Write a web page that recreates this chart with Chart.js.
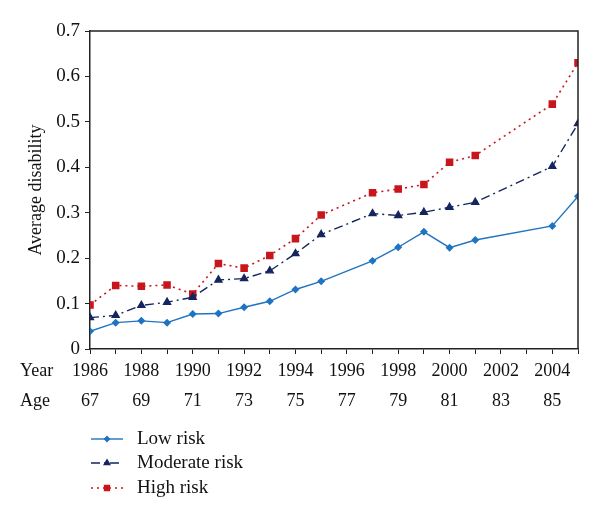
<!DOCTYPE html>
<html>
<head>
<meta charset="utf-8">
<script src="https://cdn.jsdelivr.net/npm/chart.js@4/dist/chart.umd.min.js"></script>
<style>
  html, body { margin: 0; padding: 0; background: #fff; }
  #wrap { width: 600px; height: 519px; position: relative; }
</style>
</head>
<body>
<div id="wrap"><canvas id="disabilityChart"></canvas></div>
<script>
// survey years (1996, 2002, 2003 have no wave)
var years = [1986, 1987, 1988, 1989, 1990, 1991, 1992, 1993, 1994, 1995, 1997, 1998, 1999, 2000, 2001, 2004, 2005];
var lowRisk = [0.039, 0.058, 0.062, 0.058, 0.077, 0.078, 0.092, 0.105, 0.131, 0.149, 0.194, 0.224, 0.258, 0.223, 0.240, 0.271, 0.336];
var moderateRisk = [0.069, 0.074, 0.096, 0.103, 0.114, 0.152, 0.155, 0.172, 0.210, 0.252, 0.298, 0.294, 0.301, 0.312, 0.323, 0.402, 0.496];
var highRisk = [0.097, 0.140, 0.138, 0.141, 0.121, 0.188, 0.178, 0.206, 0.243, 0.295, 0.344, 0.352, 0.362, 0.411, 0.426, 0.539, 0.630];
var seriesNames = ['Low risk', 'Moderate risk', 'High risk'];
var yTicks = [0, 0.1, 0.2, 0.3, 0.4, 0.5, 0.6, 0.7];
var ageAt1986 = 67;

var serif = '"Liberation Serif", "DejaVu Serif", serif';

function pts(vals) {
  var out = [];
  for (var i = 0; i < years.length; i++) out.push({x: years[i], y: vals[i]});
  return out;
}

var extras = {
  id: 'extras',
  afterDraw: function(chart) {
    var ctx = chart.ctx;
    var area = chart.chartArea;
    ctx.save();
    // box on top and right
    ctx.strokeStyle = '#222';
    ctx.lineWidth = 1.5;
    ctx.beginPath();
    ctx.moveTo(area.left, area.top);
    ctx.lineTo(area.right, area.top);
    ctx.lineTo(area.right, area.bottom);
    ctx.stroke();

    // row captions for the x axis
    ctx.fillStyle = '#111';
    ctx.font = '18px ' + serif;
    ctx.textBaseline = 'middle';
    ctx.textAlign = 'left';
    ctx.fillText('Year', 20, 371);
    ctx.fillText('Age', 20, 401);

    // legend
    var rowY = [439, 463, 488];
    ctx.font = '19px ' + serif;
    chart.data.datasets.forEach(function(ds, i) {
      var y = rowY[i];
      ctx.strokeStyle = ds.borderColor;
      ctx.lineWidth = ds.borderWidth;
      ctx.setLineDash(ds.borderDash || []);
      ctx.beginPath();
      ctx.moveTo(91, y);
      ctx.lineTo(123, y);
      ctx.stroke();
      ctx.setLineDash([]);
      ctx.fillStyle = ds.pointBackgroundColor;
      ctx.strokeStyle = ds.pointBorderColor;
      Chart.helpers.drawPoint(ctx, {pointStyle: ds.pointStyle, radius: ds.pointRadius * 0.8, rotation: 0, borderWidth: 1}, 107, y);
      ctx.fillStyle = '#111';
      ctx.fillText(ds.label, 137, y);
    });
    ctx.restore();
  }
};

var chart = new Chart(document.getElementById('disabilityChart').getContext('2d'), {
  type: 'line',
  data: {
    datasets: [{
      label: seriesNames[0],
      data: pts(lowRisk),
      borderColor: '#1f74c2',
      borderWidth: 1.4,
      pointStyle: 'rectRot',
      pointRadius: 3,
      pointBackgroundColor: '#1f74c2',
      pointBorderColor: '#1f74c2',
      tension: 0
    }, {
      label: seriesNames[1],
      data: pts(moderateRisk),
      borderColor: '#14255f',
      borderWidth: 1.4,
      borderDash: [9, 4, 2, 4],
      pointStyle: 'triangle',
      pointRadius: 4,
      pointBackgroundColor: '#14255f',
      pointBorderColor: '#14255f',
      tension: 0
    }, {
      label: seriesNames[2],
      data: pts(highRisk),
      borderColor: '#c8161d',
      borderWidth: 1.6,
      borderDash: [2, 4],
      pointStyle: 'rect',
      pointRadius: 4.2,
      pointBackgroundColor: '#c8161d',
      pointBorderColor: '#c8161d',
      tension: 0
    }]
  },
  options: {
    responsive: true,
    maintainAspectRatio: false,
    animation: false,
    layout: { padding: { top: 31, right: 22, bottom: 95, left: 0 } },
    plugins: {
      legend: { display: false },
      tooltip: { enabled: false }
    },
    scales: {
      x: {
        type: 'linear',
        min: 1986,
        max: 2005,
        afterFit: function(s) { s.height = 75; },
        afterBuildTicks: function(s) {
          var t = [];
          for (var y = 1986; y <= 2005; y++) t.push({value: y});
          s.ticks = t;
        },
        grid: { drawOnChartArea: false, drawTicks: true, tickLength: 5, color: '#222' },
        border: { display: true, color: '#222', width: 1.5 },
        ticks: {
          autoSkip: false,
          maxRotation: 0,
          padding: 2,
          color: '#111',
          font: { family: serif, size: 18, lineHeight: 1.68 },
          callback: function(v) {
            if (v % 2 === 0 && v <= 2004) return [String(v), String(ageAt1986 + v - 1986)];
            return '';
          }
        }
      },
      y: {
        min: 0,
        max: 0.7,
        afterFit: function(s) { s.width = 90; },
        afterBuildTicks: function(s) {
          s.ticks = yTicks.map(function(v) { return {value: v}; });
        },
        grid: { drawOnChartArea: false, drawTicks: true, tickLength: 5, color: '#222' },
        border: { display: true, color: '#222', width: 1.5 },
        title: {
          display: true,
          text: 'Average disability',
          color: '#111',
          font: { family: serif, size: 18 },
          padding: { top: 25, bottom: 0 }
        },
        ticks: {
          padding: 5,
          color: '#111',
          font: { family: serif, size: 19 },
          callback: function(v) { return v === 0 ? '0' : v.toFixed(1); }
        }
      }
    }
  },
  plugins: [extras]
});
</script>
</body>
</html>
